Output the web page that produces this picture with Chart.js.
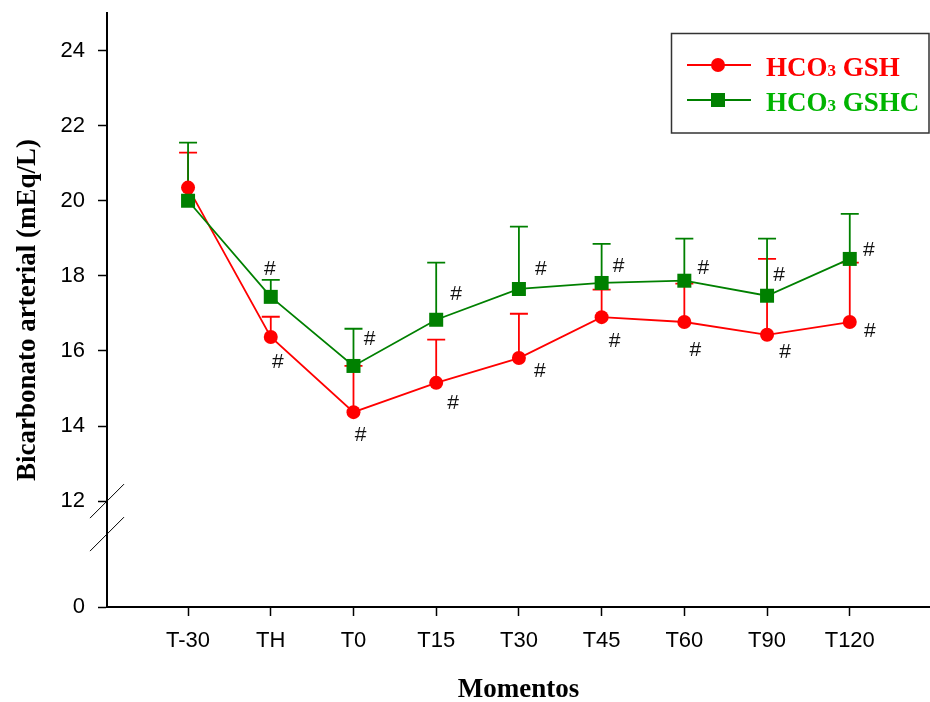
<!DOCTYPE html>
<html><head><meta charset="utf-8">
<script src="https://cdn.jsdelivr.net/npm/chart.js@4"></script>
<style>html,body{margin:0;padding:0;background:#fff}#wrap{width:930px;height:702px}</style>
</head><body><div id="wrap"><canvas id="c" width="930" height="702"></canvas></div>
<script>
// ---- data ----
const categories = ['T-30','TH','T0','T15','T30','T45','T60','T90','T120'];
const gshValues  = [20.35,16.37,14.37,15.15,15.81,16.90,16.77,16.43,16.77];
const gshUpper   = [21.28,16.91,15.60,16.30,16.99,17.63,17.79,18.45,18.35];
const gshcValues = [20.00,17.44,15.60,16.83,17.65,17.81,17.87,17.47,18.45];
const gshcUpper  = [21.55,17.89,16.59,18.35,19.31,18.85,18.99,18.99,19.65];
const gshSig  = ['','#','#','#','#','#','#','#','#'];
const gshcSig = ['','#','#','#','#','#','#','#','#'];
const yTicks = [12,14,16,18,20,22,24];
const yZeroLabel = '0';
const seriesNames = ['GSH','GSHC'];

// ---- layout / style ----
const Y_MIN = 9.18, Y_MAX = 25;   // bottom of broken axis is labelled 0
const X_MIN = -0.98, X_MAX = 8.97;
const RED = '#ff0000', GREEN = '#008000', GREEN_TXT = '#00b400';
const gshHashOff  = [[0,0],[7,25],[7,23],[17,20],[21,13],[13,24],[11,28],[18,17],[20,9]];
const gshcHashOff = [[0,0],[-1,-28],[16,-27],[20,-26],[22,-20],[17,-17],[19,-13],[12,-21],[19,-9]];

const toXY = arr => arr.map((v,i)=>({x:i,y:v}));

const extras = {
  id:'extras',
  beforeDatasetsDraw(chart){
    const ctx = chart.ctx, ys = chart.scales.y;
    const sets = [[1,gshValues,gshUpper,RED],[0,gshcValues,gshcUpper,GREEN]];
    ctx.save();
    sets.forEach(([di,vals,ups,col])=>{
      const meta = chart.getDatasetMeta(di);
      ctx.strokeStyle = col; ctx.lineWidth = 1.8;
      vals.forEach((v,j)=>{
        const x = meta.data[j].x, y0 = ys.getPixelForValue(v), y1 = ys.getPixelForValue(ups[j]);
        ctx.beginPath(); ctx.moveTo(x,y0); ctx.lineTo(x,y1);
        ctx.moveTo(x-9,y1); ctx.lineTo(x+9,y1); ctx.stroke();
      });
    });
    ctx.restore();
  },
  afterDatasetsDraw(chart){
    const ctx = chart.ctx;
    ctx.save();
    ctx.fillStyle = '#111';
    ctx.font = '21px "Liberation Sans", Arial, sans-serif';
    ctx.textAlign = 'center'; ctx.textBaseline = 'middle';
    const sets = [[1,gshSig,gshHashOff],[0,gshcSig,gshcHashOff]];
    sets.forEach(([di,sig,off])=>{
      const meta = chart.getDatasetMeta(di);
      sig.forEach((s,j)=>{
        if(!s) return;
        const p = meta.data[j];
        ctx.fillText(s, p.x+off[j][0], p.y+off[j][1]);
      });
    });
    ctx.restore();
  },
  afterDraw(chart){
    const ctx = chart.ctx, ys = chart.scales.y, x = chart.chartArea.left;
    ctx.save();
    // axis break marks
    ctx.strokeStyle = '#000'; ctx.lineWidth = 1;
    const b1 = ys.getPixelForValue(12), b2 = b1 + 33;
    [b1,b2].forEach(b=>{ ctx.beginPath(); ctx.moveTo(x-17,b+17); ctx.lineTo(x+17,b-17); ctx.stroke(); });
    // legend
    ctx.strokeStyle = '#333'; ctx.lineWidth = 1.5;
    ctx.strokeRect(671.5, 33.5, 257.5, 99.5);
    const rows = [[65, RED, 'circle', seriesNames[0], RED], [100, GREEN, 'rect', seriesNames[1], GREEN_TXT]];
    rows.forEach(([y,col,shape,name,tcol])=>{
      ctx.strokeStyle = col; ctx.lineWidth = 1.8;
      ctx.beginPath(); ctx.moveTo(687,y); ctx.lineTo(751,y); ctx.stroke();
      ctx.fillStyle = col;
      if(shape==='circle'){ ctx.beginPath(); ctx.arc(718,y,7,0,Math.PI*2); ctx.fill(); }
      else ctx.fillRect(711,y-7,14,14);
      ctx.fillStyle = tcol; ctx.textBaseline = 'alphabetic'; ctx.textAlign = 'left';
      let tx = 766; const by = y + 11;
      ctx.font = 'bold 27px "Liberation Serif", "Times New Roman", serif';
      ctx.fillText('HCO', tx, by); tx += ctx.measureText('HCO').width;
      ctx.font = 'bold 17px "Liberation Serif", "Times New Roman", serif';
      ctx.fillText('3', tx, by); tx += ctx.measureText('3').width;
      ctx.font = 'bold 27px "Liberation Serif", "Times New Roman", serif';
      ctx.fillText(' ' + name, tx, by);
    });
    ctx.restore();
  }
};

new Chart(document.getElementById('c'), {
  type:'line',
  data:{ datasets:[
    { label:'HCO3 GSHC', data: toXY(gshcValues), borderColor:GREEN, backgroundColor:GREEN,
      borderWidth:1.8, pointStyle:'rect', pointRadius:9.9, pointBorderWidth:0, tension:0 },
    { label:'HCO3 GSH', data: toXY(gshValues), borderColor:RED, backgroundColor:RED,
      borderWidth:1.8, pointStyle:'circle', pointRadius:7, pointBorderWidth:0, tension:0 }
  ]},
  options:{
    responsive:false, animation:false, devicePixelRatio:1,
    layout:{ autoPadding:false, padding:{ left:0, right:0, top:13, bottom:0 } },
    plugins:{ legend:{display:false}, tooltip:{enabled:false} },
    scales:{
      x:{ type:'linear', min:X_MIN, max:X_MAX,
        afterBuildTicks:s=>{ s.ticks = categories.map((c,i)=>({value:i})); },
        afterFit:s=>{ s.height = 95; s.paddingLeft = 0; s.paddingRight = 0; },
        grid:{ drawOnChartArea:false, drawTicks:true, tickLength:9, tickColor:'#000', tickWidth:1.5 },
        border:{ color:'#000', width:2 },
        ticks:{ callback:v=>categories[v] ?? '', color:'#000', padding:12, maxRotation:0, autoSkip:false,
          font:{ family:'"Liberation Sans", Arial, sans-serif', size:22 } },
        title:{ display:true, text:'Momentos', color:'#000', padding:{top:0,bottom:0},
          font:{ family:'"Liberation Serif", "Times New Roman", serif', size:27, weight:'bold', lineHeight:0.9 } }
      },
      y:{ type:'linear', min:Y_MIN, max:Y_MAX,
        afterBuildTicks:s=>{ s.ticks = [{value:Y_MIN}].concat(yTicks.map(v=>({value:v}))); },
        afterFit:s=>{ s.width = 107; s.paddingTop = 0; s.paddingBottom = 0; },
        grid:{ drawOnChartArea:false, drawTicks:true, tickLength:9, tickColor:'#000', tickWidth:1.5 },
        border:{ color:'#000', width:2 },
        ticks:{ callback:v=> v===Y_MIN ? yZeroLabel : String(v), color:'#000', padding:13, autoSkip:false,
          font:{ family:'"Liberation Sans", Arial, sans-serif', size:22 } },
        title:{ display:true, text:'Bicarbonato arterial (mEq/L)', color:'#000', padding:{top:12,bottom:0},
          font:{ family:'"Liberation Serif", "Times New Roman", serif', size:27, weight:'bold' } }
      }
    }
  },
  plugins:[extras]
});
</script></body></html>
